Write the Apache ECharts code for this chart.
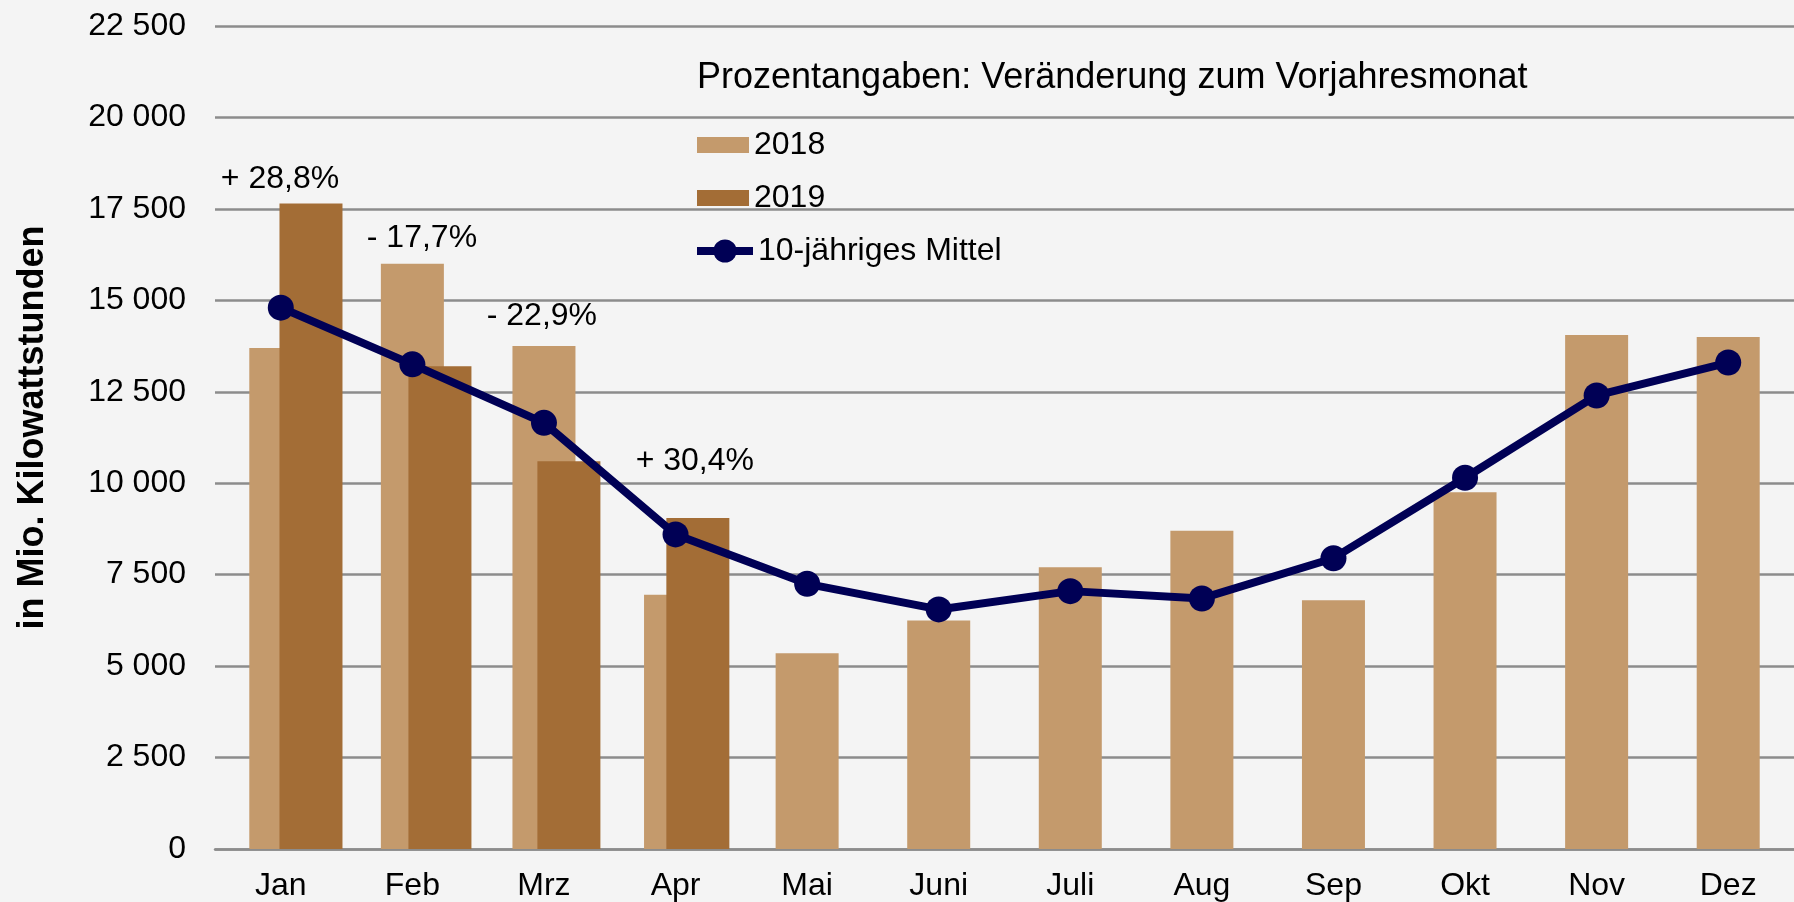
<!DOCTYPE html>
<html>
<head>
<meta charset="utf-8">
<title>Monatswerte</title>
<script src="https://cdn.jsdelivr.net/npm/echarts@6/dist/echarts.min.js"></script>
<style>
  html, body { margin: 0; padding: 0; background: #f4f4f4; }
  #chart { width: 1794px; height: 902px; }
</style>
</head>
<body>
<div id="chart"></div>
<script>
const months = ['Jan', 'Feb', 'Mrz', 'Apr', 'Mai', 'Juni', 'Juli', 'Aug', 'Sep', 'Okt', 'Nov', 'Dez']
const values2018 = [13700, 16000, 13750, 6950, 5350, 6250, 7700, 8700, 6800, 9750, 14050, 14000]
const values2019 = [17650, 13200, 10600, 9050]
const mean10 = [14800, 13250, 11650, 8600, 7250, 6550, 7050, 6850, 7950, 10150, 12400, 13300]
const changes2019 = ['+ 28,8%', '- 17,7%', '- 22,9%', '+ 30,4%']
const yTicks = { min: 0, max: 22500, interval: 2500 }

const font = 'Liberation Sans, Arial, sans-serif'
// label placement per month (the text boxes sit a bit freely above the bars)
const labelOffsets = [[-31, -24], [-18, -128], [-27, -145], [-3, -57]]

const fmt = v => String(v).replace(/\B(?=(\d{3})+(?!\d))/g, ' ')

const chart = echarts.init(document.getElementById('chart'))

const option = {
  backgroundColor: '#f4f4f4',
  animation: false,
  textStyle: { fontFamily: font },
  title: {
    text: 'Prozentangaben: Veränderung zum Vorjahresmonat',
    left: 697,
    top: 60,
    padding: 0,
    textStyle: { fontFamily: font, fontSize: 36, fontWeight: 'normal', color: '#000' }
  },
  legend: [
    {
      data: ['2018', '2019'],
      orient: 'vertical',
      left: 697,
      top: 129,
      padding: 0,
      itemWidth: 52,
      itemHeight: 16,
      itemGap: 21,
      icon: 'rect',
      textStyle: { fontFamily: font, fontSize: 32, lineHeight: 32, color: '#000' }
    },
    {
      data: ['10-jähriges Mittel'],
      orient: 'vertical',
      left: 693,
      top: 235,
      padding: 0,
      itemWidth: 56,
      itemHeight: 29,
      lineStyle: { width: 8 },
      textStyle: { fontFamily: font, fontSize: 32, lineHeight: 32, color: '#000' }
    }
  ],
  grid: [
    { left: 215, top: 26, width: 1580, bottom: 53 },
    { left: 246.5, top: 26, width: 1580, bottom: 53 }
  ],
  xAxis: [
    {
      type: 'category',
      gridIndex: 0,
      data: months,
      axisTick: { show: false },
      axisLine: { lineStyle: { color: '#8c8c8c', width: 2.5 } },
      axisLabel: { margin: 21, fontFamily: font, fontSize: 32, color: '#000' }
    },
    {
      type: 'category',
      gridIndex: 1,
      data: months,
      show: false
    }
  ],
  yAxis: [
    {
      type: 'value',
      gridIndex: 0,
      min: yTicks.min,
      max: yTicks.max,
      interval: yTicks.interval,
      name: 'in Mio. Kilowattstunden',
      nameLocation: 'middle',
      nameGap: 164,
      nameRotate: 90,
      nameTextStyle: { fontFamily: font, fontSize: 36, fontWeight: 'bold', color: '#000', padding: [0, 0, 0, 20] },
      axisLine: { show: false },
      axisTick: { show: false },
      axisLabel: { margin: 29, fontFamily: font, fontSize: 32, color: '#000', formatter: fmt },
      splitLine: { lineStyle: { color: '#8c8c8c', width: 2.5 } }
    },
    {
      type: 'value',
      gridIndex: 1,
      min: yTicks.min,
      max: yTicks.max,
      interval: yTicks.interval,
      show: false,
      splitLine: { show: false }
    }
  ],
  series: [
    {
      name: '2018',
      type: 'bar',
      xAxisIndex: 0,
      yAxisIndex: 0,
      barWidth: 63,
      data: values2018,
      itemStyle: { color: '#c49a6c' },
      z: 2
    },
    {
      name: '2019',
      type: 'bar',
      xAxisIndex: 1,
      yAxisIndex: 1,
      barWidth: 63,
      data: values2019.map((v, i) => ({
        value: v,
        label: {
          show: true,
          formatter: changes2019[i],
          position: 'top',
          distance: 0,
          verticalAlign: 'middle',
          offset: labelOffsets[i],
          fontFamily: font,
          fontSize: 32,
          color: '#000'
        }
      })),
      itemStyle: { color: '#a36d36' },
      z: 3
    },
    {
      name: '10-jähriges Mittel',
      type: 'line',
      xAxisIndex: 0,
      yAxisIndex: 0,
      data: mean10,
      symbol: 'circle',
      symbolSize: 26,
      lineStyle: { color: '#000055', width: 8 },
      itemStyle: { color: '#000055' },
      z: 5
    }
  ]
}

chart.setOption(option)
</script>
</body>
</html>
